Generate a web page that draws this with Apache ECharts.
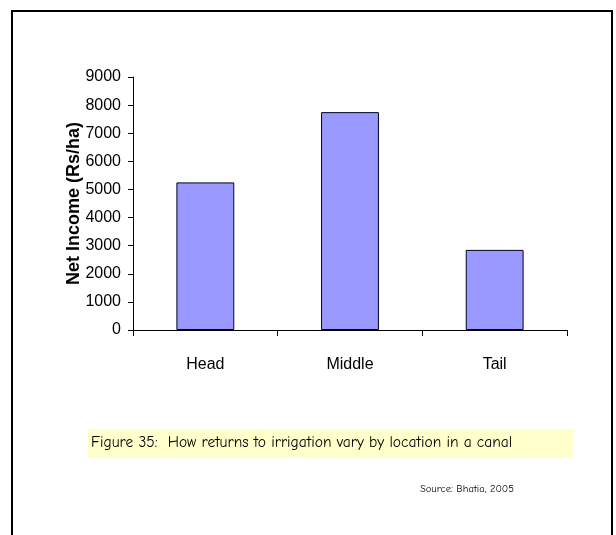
<!DOCTYPE html>
<html>
<head>
<meta charset="utf-8">
<script src="https://cdn.jsdelivr.net/npm/echarts@6/dist/echarts.min.js"></script>
<style>
html,body{margin:0;padding:0;background:#fff;}
#chart{width:616px;height:535px;}
</style>
</head>
<body>
<div id="chart"></div>
<script>
const categories = ["Head", "Middle", "Tail"];
const netIncome = [5250, 7750, 2850];
const yTicks = { min: 0, max: 9000, interval: 1000 };
const yAxisTitle = "Net Income (Rs/ha)";
const captionText = "Figure 35:  How returns to irrigation vary by location in a canal";
const sourceText = "Source: Bhatia, 2005";

const chart = echarts.init(document.getElementById('chart'), null, {renderer: 'canvas'});
const axisFont = 'Liberation Sans, Arial, sans-serif';
const captionFont = '"Comic Sans MS", "Comic Neue", "DejaVu Sans", sans-serif';

chart.setOption({
  animation: false,
  backgroundColor: '#ffffff',
  grid: { left: 133, top: 77, right: 49, bottom: 205, containLabel: false },
  xAxis: {
    type: 'category',
    data: categories,
    boundaryGap: true,
    axisLine: { lineStyle: { color: '#000', width: 1 } },
    axisTick: { show: true, alignWithLabel: false, length: 6, lineStyle: { color: '#000' } },
    axisLabel: { color: '#000', fontFamily: axisFont, fontSize: 16, margin: 27 }
  },
  yAxis: {
    type: 'value',
    min: yTicks.min, max: yTicks.max, interval: yTicks.interval,
    name: yAxisTitle,
    nameLocation: 'middle',
    nameGap: 50,
    nameMoveOverlap: false,
    nameTextStyle: { color: '#000', fontFamily: axisFont, fontSize: 18, fontWeight: 'bold' },
    axisLine: { show: true, lineStyle: { color: '#000', width: 1 } },
    axisTick: { show: true, length: 5, lineStyle: { color: '#000' } },
    axisLabel: { color: '#000', fontFamily: axisFont, fontSize: 16, margin: 12,
                 formatter: function (v) { return String(v); } },
    splitLine: { show: false }
  },
  series: [{
    type: 'bar',
    data: netIncome,
    barWidth: '40%',
    itemStyle: { color: '#9999FF', borderColor: '#000022', borderWidth: 1 }
  }],
  graphic: [
    { type: 'rect', shape: { x: 12, y: 11, width: 600, height: 540 },
      style: { fill: 'none', stroke: '#000', lineWidth: 2 }, z: 10 },
    { type: 'rect', shape: { x: 88, y: 429, width: 485, height: 29 },
      style: { fill: '#FFFFCC' }, z: 1 },
    { type: 'text', x: 91, y: 443, z: 2,
      style: { text: captionText, fill: '#000', font: '15.5px ' + captionFont, verticalAlign: 'middle', align: 'left' } },
    { type: 'text', x: 420, y: 489, z: 2,
      style: { text: sourceText, fill: '#000', font: '10.5px ' + captionFont, verticalAlign: 'middle', align: 'left' } }
  ]
});
</script>
</body>
</html>
